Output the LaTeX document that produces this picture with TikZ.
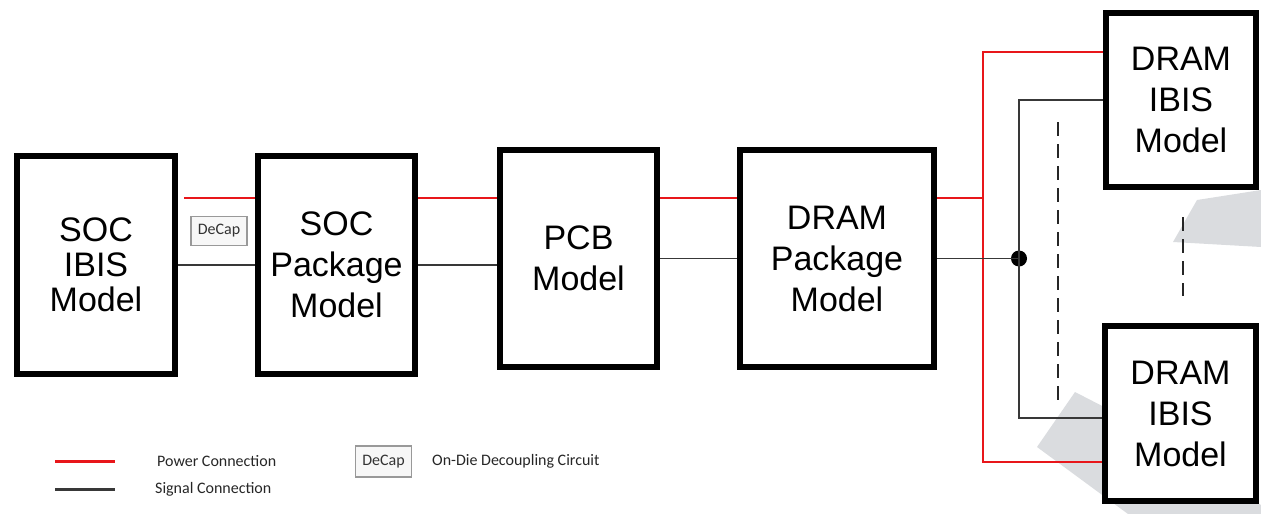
\documentclass[tikz,border=0pt]{standalone}
\usepackage{fontspec}
\setmainfont{Liberation Sans}
\newfontfamily\legfont{Carlito}
\definecolor{pwrred}{RGB}{232,22,26}
\definecolor{wmark}{RGB}{218,220,223}

\begin{document}
\begin{tikzpicture}[x=1pt, y=-1pt,
    model/.style={draw, line width=6pt, fill=white, align=center, inner sep=0pt,
        font=\fontsize{34}{41}\selectfont},
    pwr/.style={draw=pwrred, line width=2.4pt},
    sig/.style={draw=black!78, line width=1.8pt},
    decap/.style={draw=black!40, line width=1.2pt, fill=black!3, inner sep=0pt,
        minimum width=56pt, minimum height=29pt, text=black!80,
        font=\legfont\fontsize{16}{16}\selectfont},
    legtext/.style={anchor=west, inner sep=0pt, text=black!85,
        font=\legfont\fontsize{16}{16}\selectfont},
    dot/.style={circle, fill=black, minimum size=16pt, inner sep=0pt},
    guide/.style={draw=black!85, line width=2pt, dash pattern=on 14pt off 8pt}]
    \useasboundingbox (0,0) rectangle (1261,514);

    \fill[wmark] (1173,242) -- (1197,200) -- (1261,190) -- (1261,247) -- cycle;
    \fill[wmark] (1037,447) -- (1075,392) -- (1110,410) -- (1261,505) -- (1261,514) -- (1128,514) -- cycle;

    \node[model, minimum width=158pt, minimum height=218pt, font=\fontsize{34}{35}\selectfont] (socibis) at (96,265) {SOC\\IBIS\\Model};
    \node[model, minimum width=157pt, minimum height=218pt] (socpkg) at (336.5,265) {SOC\\Package\\Model};
    \node[model, minimum width=157pt, minimum height=217pt] (pcb) at (578.5,258.5) {PCB\\Model};
    \node[model, minimum width=194pt, minimum height=217pt] (drampkg) at (837,258.5) {DRAM\\Package\\Model};
    \node[model, minimum width=150pt, minimum height=174pt] (dramtop) at (1181,100) {DRAM\\IBIS\\Model};
    \node[model, minimum width=151pt, minimum height=175pt] (drambot) at (1180.5,413.5) {DRAM\\IBIS\\Model};

    \node[decap] (decap) at (219,231) {DeCap};

    \draw[pwr] ([xshift=6pt,yshift=67pt]socibis.east) -- ([yshift=67pt]socpkg.west);
    \draw[sig] (socibis.east) -- (socpkg.west);
    \draw[pwr] ([yshift=67pt]socpkg.east) coordinate (p2) -- (p2 -| pcb.west);
    \draw[sig] (socpkg.east) -- (socpkg.east -| pcb.west);
    \draw[pwr] ([yshift=60.5pt]pcb.east) -- ([yshift=60.5pt]drampkg.west);
    \draw[sig] (pcb.east) -- (drampkg.west);

    \coordinate (pbus) at (983,198);
    \node[dot] (jn) at (1019,258.5) {};
    \draw[pwr] ([yshift=60.5pt]drampkg.east) -- (pbus);
    \draw[pwr] ([yshift=48pt]dramtop.west) -| (pbus) |- ([yshift=-48.5pt]drambot.west);
    \draw[sig] (drampkg.east) -- (jn.center);
    \draw[sig] (dramtop.west) -| (jn.center) |- ([yshift=-4.5pt]drambot.west);

    \coordinate (g1) at (1058,122);
    \coordinate (g2) at (1058,403);
    \coordinate (g3) at (1183,217);
    \coordinate (g4) at (1183,296);
    \draw[guide] (g1) -- (g2);
    \draw[guide] (g3) -- (g4);

    % legend
    \coordinate (lp1) at (55,461);
    \coordinate (lp2) at (115,461);
    \coordinate (ls1) at (55,489);
    \coordinate (ls2) at (115,489);
    \draw[pwr, line width=3pt] (lp1) -- (lp2);
    \draw[sig, line width=3pt] (ls1) -- (ls2);
    \node[legtext] (lpwr) at (157,461) {Power Connection};
    \node[legtext] (lsig) at (155,489) {Signal Connection};
    \node[decap, minimum width=56pt, minimum height=31pt] (ldecap) at (383.5,461.5) {DeCap};
    \node[legtext] (ldesc) at (432,461) {On-Die Decoupling Circuit};
\end{tikzpicture}
\end{document}
